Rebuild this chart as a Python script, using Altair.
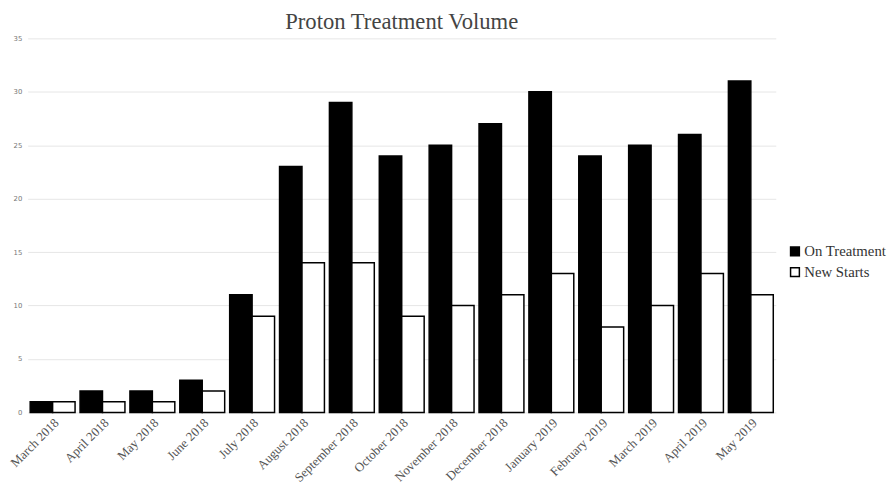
import altair as alt
import pandas as pd

months = ["March 2018", "April 2018", "May 2018", "June 2018", "July 2018",
          "August 2018", "September 2018", "October 2018", "November 2018",
          "December 2018", "January 2019", "February 2019", "March 2019",
          "April 2019", "May 2019"]
on_treatment = [1, 2, 2, 3, 11, 23, 29, 24, 25, 27, 30, 24, 25, 26, 31]
new_starts = [1, 1, 1, 2, 9, 14, 14, 9, 10, 11, 13, 8, 10, 13, 11]
series = ["On Treatment", "New Starts"]

rows = []
for m, a, b in zip(months, on_treatment, new_starts):
    rows.append({"Month": m, "Series": series[0], "Value": a})
    rows.append({"Month": m, "Series": series[1], "Value": b})
df = pd.DataFrame(rows)

chart = alt.Chart(df).mark_bar(stroke="#000000", strokeWidth=1.5).encode(
    x=alt.X("Month:N", sort=months, title=None,
            scale=alt.Scale(paddingInner=0.1, paddingOuter=0.05),
            axis=alt.Axis(labelAngle=-45, labelFont="Liberation Serif", labelFontSize=13,
                          labelColor="#555555", domain=False, ticks=False, labelPadding=4)),
    xOffset=alt.XOffset("Series:N", sort=series),
    y=alt.Y("Value:Q", title=None,
            scale=alt.Scale(domain=[0, 35]),
            axis=alt.Axis(values=[0, 5, 10, 15, 20, 25, 30, 35], domain=False, ticks=False,
                          labelFont="DejaVu Sans", labelFontSize=7, labelColor="#777777",
                          gridColor="#e6e6e6", labelPadding=6)),
    fill=alt.Fill("Series:N", sort=series,
                  scale=alt.Scale(domain=series, range=["#000000", "#ffffff"]),
                  legend=alt.Legend(title=None, orient="none", legendX=772, legendY=209,
                                    symbolType="square",
                                    symbolStrokeColor="#000000", symbolStrokeWidth=1.5,
                                    symbolSize=80, labelFont="Liberation Serif",
                                    labelFontSize=15, labelColor="#333333",
                                    labelOffset=2, rowPadding=5)),
).properties(
    width=760, height=380,
    padding={"left": 0, "top": 0, "right": 0, "bottom": 0},
    title=alt.TitleParams("Proton Treatment Volume", font="Liberation Serif",
                          fontSize=23, fontWeight="normal", color="#444444",
                          offset=0),
).configure_view(stroke=None)

chart.save("out.html", embed_options={"renderer": "svg", "actions": False})
